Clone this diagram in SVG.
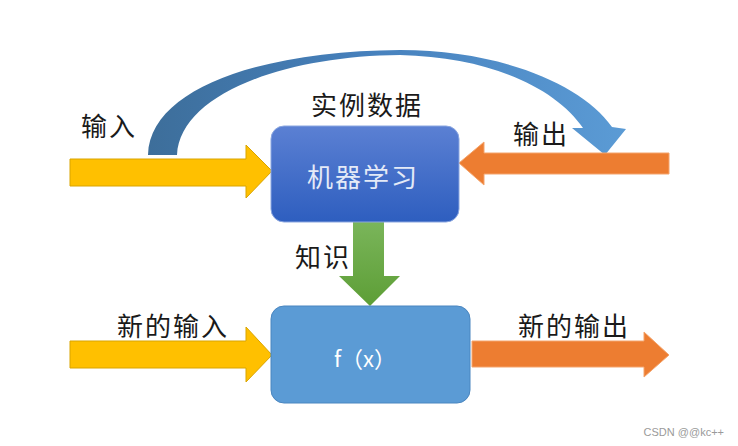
<svg xmlns="http://www.w3.org/2000/svg" width="738" height="446" viewBox="0 0 738 446">
<defs>
<linearGradient id="gBlue" x1="0" y1="0" x2="0" y2="1"><stop offset="0" stop-color="#5b80d3"/><stop offset="1" stop-color="#2e5ebf"/></linearGradient>
<linearGradient id="gArc" x1="0" y1="0" x2="1" y2="0"><stop offset="0" stop-color="#3d6e9a"/><stop offset="0.45" stop-color="#4680bc"/><stop offset="1" stop-color="#5b9bd5"/></linearGradient>
<linearGradient id="gGreen" x1="0" y1="0" x2="0" y2="1"><stop offset="0" stop-color="#7ab55a"/><stop offset="1" stop-color="#5d9e36"/></linearGradient>
<style>
.lbl{font-family:"Noto Sans CJK SC","Liberation Sans",sans-serif;font-size:26px;fill:#1a1a1a;letter-spacing:2px;dominant-baseline:central}
.yel{fill:#ffc000;stroke:#d9a400;stroke-width:1}
.org{fill:#ed7d31;stroke:#f4a46c;stroke-width:1}
</style>
</defs>
<rect width="738" height="446" fill="#ffffff"/>
<g id="connectors">
<path id="arc" d="M148,155 C150,88 262,51 400,50 C500,50 582,84 612,127 L626,129 L605,155 L572,128 L583,128 C556,88 490,57 400,55 C282,56 180,95 177,155 Z" fill="url(#gArc)"/>
<path id="in-top" class="yel" d="M70,159 L246,159 L246,145 L272,171 L246,198 L246,186 L70,186 Z"/>
<path id="out-top" class="org" d="M669,153 L484,153 L484,142 L459,163 L484,185 L484,174 L669,174 Z"/>
<path id="knowledge" d="M353,222 L384,222 L384,276 L400,276 L370,306 L339,276 L353,276 Z" fill="url(#gGreen)"/>
<path id="in-bot" class="yel" d="M70,341 L246,341 L246,327 L272,355 L246,382 L246,368 L70,368 Z"/>
<path id="out-bot" class="org" d="M472,341 L644,341 L644,332 L669,355 L644,377 L644,367 L472,367 Z"/>
</g>
<g id="ml">
<rect x="271" y="126" width="188" height="96" rx="13" fill="url(#gBlue)" stroke="#8aa6e0" stroke-width="1"/>
<text class="lbl" x="307" y="175" style="fill:#e4eaf7">机器学习</text>
</g>
<g id="fx">
<rect x="271" y="306" width="199" height="97" rx="13" fill="#5b9bd5" stroke="#4a86c0" stroke-width="1"/>
<text x="365" y="357" text-anchor="middle" dominant-baseline="central" font-family="'Noto Sans CJK SC','Liberation Sans',sans-serif" font-size="22" fill="#ffffff">f（x）</text>
</g>
<g id="labels">
<text class="lbl" x="311" y="103">实例数据</text>
<text class="lbl" x="81" y="124">输入</text>
<text class="lbl" x="513" y="132">输出</text>
<text class="lbl" x="295" y="255">知识</text>
<text class="lbl" x="117" y="324">新的输入</text>
<text class="lbl" x="518" y="324">新的输出</text>
<text x="724" y="436" text-anchor="end" font-family="'Liberation Sans',sans-serif" font-size="11" fill="#9a9a9a">CSDN @@kc++</text>
</g>
</svg>
